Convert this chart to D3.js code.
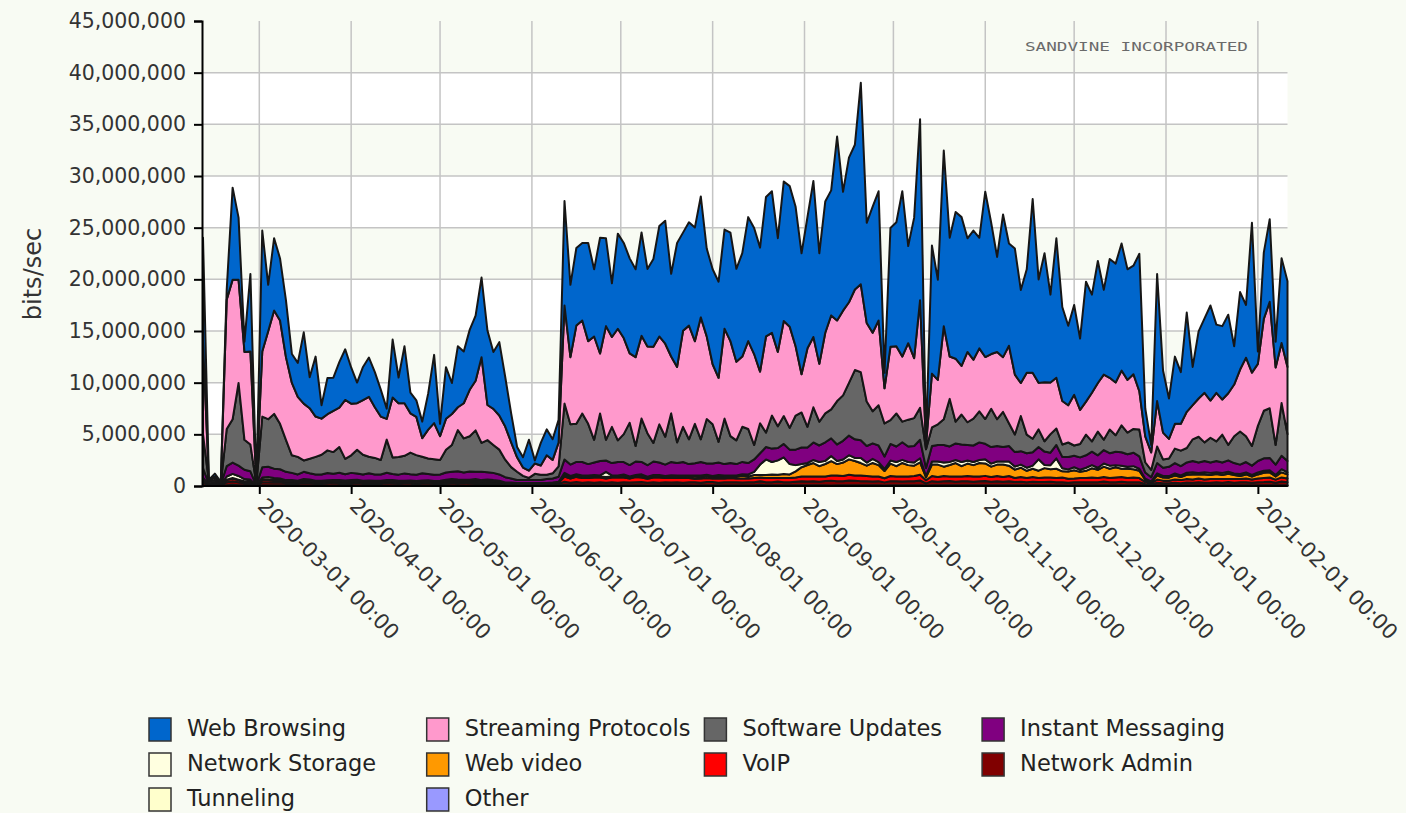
<!DOCTYPE html>
<html>
<head>
<meta charset="utf-8">
<script src="https://cdn.jsdelivr.net/npm/d3@7"></script>
<style>
  html, body { margin: 0; padding: 0; background: #f8fbf3; }
  svg { display: block; font-family: "DejaVu Sans", Verdana, sans-serif; }
</style>
</head>
<body>
<div id="chart"></div>
<script>
// legend order (top of the stack first)
const seriesNames = ["Web Browsing", "Streaming Protocols", "Software Updates", "Instant Messaging",
  "Network Storage", "Web video", "VoIP", "Network Admin", "Tunneling", "Other"];
const seriesColors = ["#0066cc", "#ff99cc", "#666666", "#800080",
  "#ffffe0", "#ff9900", "#ff0000", "#800000", "#ffffcc", "#9999ff"];

// one sample every 2 days from 2020-02-11, values in Mbit/s
const startDate = "2020-02-11";
const stepDays = 2;

const webBrowsing = [
  10,0.1,0.3,0.1,1,8.9,6,1,7.5,0.05,
  11.7,4.5,7,6,5.5,2.8,3.3,6.9,3,5.8,
  1.3,3.5,3.2,4.4,4.9,3.5,2,3.2,3.8,3.4,
  2.6,1,5.6,2.5,5.5,2,1.6,1.6,3.5,6.6,
  1.2,5,3,5.9,5,5.8,6.3,7.7,7.2,5.5,
  7.1,4.8,2.8,1,1,3,0.3,2.2,2.5,2,
  2.2,10.1,7,7.5,7.5,9.5,6.5,11.2,8.5,5.2,
  9.2,9.2,9.2,8.5,10,7.5,8.5,10.7,11.9,8,
  12,9.5,10,11,11.7,8.5,9.2,9.3,9.6,10.5,
  9,10,12,12.2,12,13.5,13.7,11,13.5,13.6,
  13.5,11.7,12.7,15.1,10.7,12.7,12.1,17.8,11.5,14,
  14,19.5,9.7,12.2,12.5,1.5,11.5,12,16,9.4,
  13.6,17.5,0.5,12.4,9.7,17,11.5,14.2,14.4,11,
  12.5,10.7,16,12.7,9.2,13.8,9.9,12.2,9,10,
  16.8,10,12.5,8.5,13.5,9.1,7.7,8.7,6.9,11.6,
  9.5,11.8,8.2,11.5,11.5,12.3,10.7,10.5,13.3,2.7,
  0.7,12.3,6,3.9,6.5,5,9.6,3.7,6.5,7.2,
  9.2,6.6,7.1,7.6,3.7,7.5,5.1,14.5,1.2,6.4,
  8,2.5,8.2,8.3];

const streamingProtocols = [
  9,0.1,0.3,0.1,12.5,13.5,10,8.5,9,0.05,
  6.3,8.5,10,10,8,7,5.8,5.5,4.9,3.9,
  3.5,3.5,4,3.8,5.7,5,4.5,5.3,5.8,4.9,
  4.2,2,5.8,5.2,5.1,3.8,3.7,1.8,2.8,3.5,
  2.3,3,3,2.2,3.4,4.5,4.8,8.3,3.4,3.5,
  3.3,3.2,2.4,1.4,0.8,0.7,1,0.9,1.9,1.3,
  2.3,9.5,6.5,9.5,9,8,10,5.8,11,8.7,
  10.8,9.3,6.7,8.6,8,8.4,9.3,8.5,9,5.5,
  7.3,9.3,11,8,11.8,8,5.8,6.2,8.7,9.2,
  7.6,6.8,8.5,8.8,5,9.3,8,7.2,9.2,9.8,
  6.7,3.7,7.6,6.8,5.6,7.8,9.1,7.8,8.2,7.8,
  7.8,8.5,7.6,7.6,8.2,3.4,7.1,6.5,6.3,7.4,
  5.8,10.4,0.4,5.2,4.3,9,4.1,6.1,4.7,6.8,
  5.7,6.1,6,5.3,6.5,5.3,7.5,5.8,3.2,6,
  6.4,4.5,5.7,5,4.9,4.2,3.6,4.9,3.3,3.2,
  4.7,4.7,6.3,5,5.1,5.3,5.1,5.3,3.7,2.5,
  1.7,4.4,2.6,1.9,2.4,2.6,3.5,3.3,3.7,4.8,
  3.6,4.7,3.4,5,5,6,7.6,7.1,6,8.9,
  10.3,7.5,5.8,6.5];

const softwareUpdates = [
  3.3,0.2,0.2,0.03,3.6,4.2,8.0,2.9,2.6,0.1,
  4.9,4.6,5.3,4.4,3.1,1.7,1.7,1.1,1.4,1.7,
  1.9,2.2,2.1,2.5,1.5,1.7,2.3,1.9,1.6,1.6,
  1.4,3.2,1.6,1.7,1.7,2.1,1.9,1.6,1.5,1.5,
  1.4,2.2,2.6,4.0,3.3,3.4,4.0,2.8,3.1,2.7,
  2.4,1.7,1.1,0.8,0.4,0.2,0.6,0.5,0.4,0.5,
  1.0,5.4,3.9,3.7,4.7,3.9,2.2,4.6,2.0,3.5,
  2.1,2.7,4.1,1.5,4.2,3.1,1.8,3.7,2.7,4.7,
  2.0,3.4,2.4,3.8,2.2,4.3,3.8,2.0,4.4,2.6,
  2.3,3.4,3.3,1.4,2.9,1.4,3.2,2.1,2.7,2.1,
  3.3,3.4,2.0,3.4,2.3,2.8,2.8,4.2,4.4,5.1,
  6.7,6.6,4.3,3.1,3.9,3.2,2.3,3.2,2.0,2.6,
  2.7,3.1,1.8,1.8,2.0,2.5,4.6,2.1,2.9,2.2,
  2.6,3.0,2.4,3.7,2.6,3.4,2.2,1.7,3.4,1.8,
  1.3,1.7,1.0,1.8,1.6,1.2,1.4,1.0,1.3,2.0,
  1.0,2.3,1.0,2.3,1.6,2.6,2.1,2.3,2.6,1.0,
  0.7,1.6,0.8,0.8,1.4,1.5,1.4,2.1,2.5,1.8,
  2.4,1.9,2.7,1.5,2.6,3.2,2.5,1.9,3.4,4.6,
  4.8,1.9,5.1,2.6];

const instantMessaging = [
  0.9,0.1,0.2,0.05,1.0,1.1,1.0,0.9,0.8,0.02,
  1.0,1.0,0.9,0.9,0.8,0.7,0.6,0.7,0.6,0.6,
  0.6,0.7,0.6,0.7,0.6,0.7,0.6,0.6,0.7,0.6,
  0.6,0.7,0.6,0.6,0.7,0.6,0.6,0.7,0.6,0.6,
  0.6,0.7,0.7,0.8,0.7,0.8,0.7,0.8,0.7,0.7,
  0.6,0.5,0.4,0.3,0.3,0.3,0.3,0.3,0.4,0.4,
  0.5,1.3,1.1,1.2,1.3,1.1,1.2,1.4,1.1,1.2,
  1.3,1.2,1.1,1.3,1.2,1.1,1.3,1.2,1.1,1.3,
  1.2,1.3,1.1,1.2,1.3,1.1,1.2,1.2,1.1,1.2,
  1.1,1.2,1.1,1.2,1.1,1.2,1.3,1.2,1.3,1.4,
  1.5,1.6,1.5,1.7,1.6,1.8,1.7,1.6,1.8,1.9,
  1.8,1.7,1.6,1.5,1.6,1.2,1.6,1.5,1.7,1.5,
  1.6,1.8,0.8,1.5,1.6,1.7,1.5,1.6,1.7,1.5,
  1.6,1.7,1.5,1.6,1.5,1.4,1.5,1.4,1.3,1.4,
  1.3,1.2,1.3,1.2,1.3,1.1,1.2,1.1,1.2,1.2,
  1.3,1.2,1.3,1.2,1.3,1.3,1.2,1.3,1.2,0.6,
  0.4,1.0,0.8,0.9,1.0,0.9,1.0,1.1,1.0,1.1,
  1.0,1.1,1.0,1.1,1.0,0.9,1.0,0.9,1.1,1.2,
  1.2,1.0,1.3,1.1];

const networkStorage = [
  0.2,0.02,0.05,0.02,0.3,0.4,0.35,0.2,0.1,0.02,
  0.2,0.25,0.2,0.15,0.1,0.1,0.1,0.1,0.15,0.1,
  0.1,0.1,0.1,0.1,0.1,0.15,0.1,0.1,0.1,0.1,
  0.1,0.12,0.1,0.08,0.1,0.1,0.12,0.1,0.1,0.08,
  0.1,0.1,0.15,0.1,0.1,0.1,0.15,0.1,0.1,0.1,
  0.1,0.05,0.05,0.05,0.05,0.05,0.05,0.05,0.05,0.05,
  0.05,0.2,0.15,0.1,0.15,0.1,0.15,0.1,0.5,0.1,
  0.1,0.15,0.1,0.1,0.15,0.1,0.1,0.15,0.1,0.1,
  0.1,0.15,0.1,0.1,0.15,0.1,0.1,0.15,0.1,0.1,
  0.1,0.15,0.2,0.3,1.0,1.5,1.2,1.4,1.6,1.0,
  0.6,0.3,0.2,0.3,0.4,0.3,0.5,0.3,0.3,0.4,
  0.3,0.5,0.3,0.4,0.3,0.2,0.3,0.4,0.3,0.3,
  0.3,0.4,0.1,0.3,0.3,0.4,0.3,0.3,0.4,0.3,
  0.3,0.3,0.4,0.3,0.3,0.3,0.4,0.3,0.3,0.3,
  0.3,1.1,0.3,0.4,1.0,0.3,0.2,0.3,0.2,0.3,
  0.3,0.2,0.3,0.3,0.2,0.3,0.2,0.3,0.2,0.1,
  0.05,0.2,0.15,0.15,0.2,0.15,0.2,0.2,0.15,0.2,
  0.2,0.15,0.2,0.2,0.15,0.2,0.2,0.15,0.2,0.2,
  0.2,0.15,0.3,0.2];

const webVideo = [
  0.05,0,0,0,0.05,0.05,0.05,0.05,0.05,0,
  0.05,0.05,0.05,0.05,0.05,0.05,0.05,0.1,0.05,0.05,
  0.05,0.04,0.05,0.06,0.05,0.05,0.04,0.05,0.06,0.05,
  0.05,0.05,0.06,0.05,0.04,0.05,0.05,0.06,0.05,0.04,
  0.05,0.06,0.05,0.05,0.04,0.05,0.06,0.05,0.05,0.05,
  0.05,0.05,0.03,0.03,0.03,0.03,0.03,0.03,0.03,0.03,
  0.05,0.15,0.1,0.15,0.1,0.15,0.1,0.1,0.15,0.1,
  0.1,0.15,0.1,0.1,0.15,0.1,0.15,0.1,0.1,0.15,
  0.15,0.1,0.15,0.2,0.15,0.2,0.15,0.2,0.2,0.15,
  0.2,0.25,0.2,0.3,0.25,0.3,0.35,0.3,0.4,0.35,
  0.6,0.9,1.1,1.3,1.0,1.2,1.4,1.1,1.3,1.5,
  1.4,1.2,1.0,1.3,1.1,0.7,1.2,1.0,1.3,1.1,
  1.0,1.2,0.3,1.1,1.2,0.9,1.1,1.3,1.0,1.2,
  1.1,1.3,1.2,1.0,1.1,1.2,1.0,0.8,0.9,0.7,
  0.8,0.7,0.9,0.8,0.9,0.6,0.7,0.8,0.6,0.7,
  0.9,0.8,1.0,0.9,1.0,0.8,0.9,0.8,0.7,0.2,
  0.1,0.4,0.3,0.3,0.4,0.3,0.4,0.5,0.4,0.5,
  0.4,0.5,0.4,0.5,0.4,0.3,0.4,0.3,0.4,0.5,
  0.5,0.3,0.5,0.4];

const voip = [
  0.2,0.05,0.05,0.05,0.2,0.25,0.2,0.15,0.2,0.02,
  0.2,0.2,0.2,0.15,0.15,0.15,0.1,0.15,0.15,0.1,
  0.1,0.15,0.1,0.15,0.1,0.1,0.15,0.1,0.1,0.1,
  0.1,0.1,0.15,0.1,0.1,0.1,0.1,0.1,0.15,0.1,
  0.1,0.15,0.15,0.2,0.15,0.2,0.2,0.15,0.2,0.15,
  0.15,0.1,0.1,0.05,0.05,0.05,0.05,0.05,0.05,0.1,
  0.1,0.5,0.4,0.5,0.45,0.4,0.5,0.45,0.4,0.45,
  0.5,0.45,0.4,0.5,0.45,0.4,0.45,0.5,0.4,0.45,
  0.4,0.45,0.4,0.35,0.4,0.4,0.35,0.4,0.35,0.4,
  0.35,0.4,0.35,0.4,0.35,0.4,0.4,0.35,0.4,0.4,
  0.4,0.45,0.5,0.45,0.5,0.45,0.5,0.55,0.5,0.55,
  0.5,0.55,0.5,0.5,0.45,0.4,0.5,0.45,0.5,0.45,
  0.5,0.55,0.3,0.5,0.45,0.5,0.45,0.5,0.45,0.5,
  0.5,0.45,0.5,0.45,0.5,0.45,0.5,0.4,0.45,0.4,
  0.45,0.4,0.45,0.4,0.4,0.45,0.4,0.35,0.4,0.4,
  0.45,0.4,0.45,0.4,0.45,0.45,0.4,0.45,0.4,0.2,
  0.15,0.3,0.25,0.25,0.3,0.3,0.35,0.3,0.35,0.3,
  0.35,0.3,0.35,0.3,0.35,0.3,0.35,0.3,0.35,0.4,
  0.4,0.3,0.4,0.35];

const networkAdmin = [
  0.3,0.05,0.1,0.05,0.3,0.35,0.3,0.2,0.2,0.02,
  0.3,0.3,0.25,0.3,0.2,0.2,0.2,0.25,0.2,0.2,
  0.2,0.2,0.25,0.2,0.2,0.2,0.25,0.2,0.2,0.2,
  0.2,0.25,0.2,0.2,0.2,0.2,0.15,0.2,0.2,0.2,
  0.2,0.2,0.25,0.2,0.25,0.2,0.2,0.2,0.2,0.2,
  0.15,0.1,0.1,0.1,0.1,0.1,0.1,0.1,0.1,0.1,
  0.15,0.3,0.25,0.3,0.25,0.3,0.25,0.3,0.25,0.3,
  0.25,0.3,0.25,0.3,0.3,0.25,0.3,0.25,0.3,0.25,
  0.3,0.25,0.3,0.3,0.25,0.3,0.3,0.25,0.3,0.3,
  0.3,0.25,0.3,0.3,0.35,0.3,0.3,0.35,0.3,0.3,
  0.35,0.4,0.35,0.4,0.35,0.4,0.45,0.4,0.4,0.45,
  0.45,0.4,0.4,0.35,0.4,0.3,0.4,0.4,0.35,0.4,
  0.4,0.45,0.2,0.4,0.35,0.4,0.4,0.35,0.4,0.4,
  0.35,0.4,0.4,0.35,0.4,0.35,0.4,0.3,0.35,0.3,
  0.35,0.3,0.3,0.35,0.3,0.3,0.25,0.3,0.3,0.3,
  0.3,0.3,0.35,0.3,0.3,0.35,0.3,0.3,0.3,0.15,
  0.1,0.25,0.2,0.2,0.25,0.2,0.25,0.25,0.3,0.25,
  0.25,0.3,0.25,0.3,0.25,0.3,0.3,0.25,0.3,0.3,
  0.35,0.25,0.35,0.3];

const tunneling = [
  0.05,0,0,0,0.05,0.1,0.05,0.05,0.05,0,
  0.05,0.05,0.06,0.05,0.04,0.05,0.05,0.05,0.06,0.05,
  0.05,0.04,0.05,0.05,0.06,0.05,0.05,0.04,0.05,0.05,
  0.05,0.05,0.04,0.05,0.06,0.05,0.05,0.05,0.04,0.05,
  0.05,0.06,0.05,0.05,0.05,0.04,0.05,0.05,0.06,0.05,
  0.05,0.03,0.03,0.03,0.03,0.03,0.03,0.03,0.03,0.03,
  0.03,0.1,0.05,0.05,0.05,0.05,0.05,0.05,0.05,0.05,
  0.05,0.05,0.06,0.05,0.05,0.04,0.05,0.05,0.05,0.06,
  0.05,0.05,0.05,0.04,0.05,0.06,0.05,0.05,0.05,0.05,
  0.05,0.06,0.05,0.05,0.1,0.05,0.05,0.06,0.05,0.05,
  0.05,0.05,0.06,0.05,0.05,0.05,0.04,0.05,0.05,0.06,
  0.05,0.05,0.05,0.06,0.05,0.03,0.05,0.05,0.06,0.05,
  0.05,0.06,0.03,0.05,0.05,0.05,0.06,0.05,0.05,0.05,
  0.05,0.05,0.06,0.05,0.05,0.05,0.05,0.06,0.05,0.05,
  0.05,0.06,0.05,0.05,0.05,0.05,0.04,0.05,0.05,0.05,
  0.05,0.05,0.06,0.05,0.05,0.05,0.05,0.05,0.05,0.03,
  0.03,0.05,0.05,0.04,0.05,0.05,0.06,0.05,0.05,0.05,
  0.05,0.05,0.05,0.06,0.05,0.05,0.05,0.05,0.05,0.06,
  0.05,0.05,0.06,0.05];

const other = [
  0.02,0,0,0,0.02,0.02,0.02,0.02,0.02,0,
  0.02,0.02,0.02,0.02,0.03,0.02,0.02,0.02,0.02,0.02,
  0.02,0.02,0.03,0.02,0.02,0.02,0.02,0.03,0.02,0.02,
  0.02,0.02,0.02,0.02,0.02,0.03,0.02,0.02,0.02,0.02,
  0.02,0.03,0.02,0.02,0.02,0.02,0.02,0.02,0.03,0.02,
  0.02,0.02,0.02,0.02,0.02,0.02,0.02,0.02,0.02,0.02,
  0.02,0.02,0.02,0.03,0.02,0.02,0.02,0.02,0.02,0.02,
  0.02,0.02,0.02,0.02,0.03,0.02,0.02,0.02,0.02,0.02,
  0.02,0.02,0.02,0.02,0.02,0.02,0.03,0.02,0.02,0.02,
  0.02,0.02,0.02,0.02,0.02,0.02,0.02,0.02,0.02,0.02,
  0.02,0.02,0.02,0.02,0.02,0.03,0.02,0.02,0.02,0.02,
  0.02,0.02,0.02,0.02,0.02,0.02,0.02,0.02,0.02,0.02,
  0.02,0.02,0.02,0.02,0.02,0.02,0.02,0.02,0.02,0.02,
  0.02,0.02,0.02,0.02,0.02,0.02,0.02,0.02,0.02,0.02,
  0.02,0.02,0.03,0.02,0.02,0.02,0.02,0.02,0.02,0.02,
  0.02,0.02,0.02,0.02,0.02,0.02,0.02,0.02,0.02,0.02,
  0.02,0.02,0.02,0.02,0.02,0.02,0.02,0.02,0.02,0.02,
  0.02,0.02,0.02,0.02,0.02,0.02,0.02,0.02,0.02,0.02,
  0.02,0.02,0.02,0.02];

const yTickValues = [0, 5e6, 10e6, 15e6, 20e6, 25e6, 30e6, 35e6, 40e6, 45e6];
const xTickDates = ["2020-03-01", "2020-04-01", "2020-05-01", "2020-06-01", "2020-07-01", "2020-08-01",
  "2020-09-01", "2020-10-01", "2020-11-01", "2020-12-01", "2021-01-01", "2021-02-01"];

const seriesValues = [webBrowsing, streamingProtocols, softwareUpdates, instantMessaging,
  networkStorage, webVideo, voip, networkAdmin, tunneling, other];

const width = 1406, height = 813;
const plot = { left: 203, right: 1287.5, top: 21, bottom: 486 };

const svg = d3.select("#chart").append("svg")
  .attr("width", width)
  .attr("height", height);

const parse = d3.utcParse("%Y-%m-%d");
const start = parse(startDate);
const dates = webBrowsing.map((v, i) => d3.utcDay.offset(start, i * stepDays));

const rows = dates.map((d, i) => {
  const r = { date: d };
  seriesNames.forEach((name, k) => { r[name] = seriesValues[k][i] * 1e6; });
  return r;
});

const x = d3.scaleUtc()
  .domain([start, dates[dates.length - 1]])
  .range([plot.left, plot.right]);

const y = d3.scaleLinear()
  .domain([0, 45e6])
  .range([plot.bottom, plot.top]);

// alternating bands
const bands = [[5e6, 10e6], [15e6, 20e6], [25e6, 30e6], [35e6, 40e6]];
svg.append("g").selectAll("rect")
  .data(bands)
  .join("rect")
    .attr("x", plot.left)
    .attr("width", plot.right - plot.left)
    .attr("y", d => y(d[1]))
    .attr("height", d => y(d[0]) - y(d[1]))
    .attr("fill", "#ffffff");

// grid
const grid = svg.append("g").attr("stroke", "#c4c4c4").attr("stroke-width", 1.5);
grid.selectAll(".h")
  .data(yTickValues.filter(v => v > 0 && v < 45e6))
  .join("line")
    .attr("x1", plot.left).attr("x2", plot.right)
    .attr("y1", d => y(d)).attr("y2", d => y(d));
grid.selectAll(".v")
  .data(xTickDates.map(parse))
  .join("line")
    .attr("x1", d => x(d)).attr("x2", d => x(d))
    .attr("y1", plot.top).attr("y2", plot.bottom);

svg.append("text")
  .attr("x", 1025).attr("y", 51)
  .attr("font-size", 13)
  .attr("fill", "#6a6a6a")
  .attr("font-family", "DejaVu Sans Mono, monospace")
  .attr("textLength", 223)
  .attr("lengthAdjust", "spacingAndGlyphs")
  .text("SANDVINE INCORPORATED");

// stack, bottom layer = last legend entry
const keys = seriesNames.slice().reverse();
const stacked = d3.stack().keys(keys)(rows);
const colorOf = d3.scaleOrdinal(seriesNames, seriesColors);

const area = d3.area()
  .x(d => x(d.data.date))
  .y0(d => y(d[0]))
  .y1(d => y(d[1]));

svg.append("g")
  .selectAll("path")
  .data(stacked)
  .join("path")
    .attr("d", area)
    .attr("fill", d => colorOf(d.key))
    .attr("stroke", "#161616")
    .attr("stroke-width", 2)
    .attr("stroke-linejoin", "round");

// axes
const yAxis = svg.append("g")
  .attr("transform", `translate(${plot.left - 1},0)`)
  .call(d3.axisLeft(y).tickValues(yTickValues).tickFormat(d3.format(",")).tickSize(8).tickPadding(8));
yAxis.select(".domain").attr("stroke", "#000").attr("stroke-width", 2);
yAxis.selectAll(".tick line").attr("stroke", "#000").attr("stroke-width", 2);
yAxis.selectAll("text").attr("font-size", 20.5).attr("fill", "#333").attr("font-family", "DejaVu Sans, Verdana, sans-serif");

const xAxis = svg.append("g")
  .attr("transform", `translate(0,${plot.bottom})`)
  .call(d3.axisBottom(x).tickValues(xTickDates.map(parse))
    .tickFormat(d3.utcFormat("%Y-%m-%d %H:%M")).tickSize(8).tickSizeOuter(0));
xAxis.select(".domain").attr("stroke", "#000").attr("stroke-width", 2)
  .attr("d", `M${plot.left - 1},0H${plot.right}`);
xAxis.selectAll(".tick line").attr("stroke", "#000").attr("stroke-width", 2);
xAxis.selectAll("text")
  .attr("font-size", 21)
  .attr("fill", "#333")
  .attr("font-family", "DejaVu Sans, Verdana, sans-serif")
  .attr("x", 0).attr("y", 0).attr("dy", "0.35em")
  .attr("text-anchor", "start")
  .attr("transform", "translate(2,16) rotate(45)");

svg.append("text")
  .attr("transform", "translate(41,274) rotate(-90)")
  .attr("text-anchor", "middle")
  .attr("font-size", 24)
  .attr("fill", "#333")
  .text("bits/sec");

// legend
const legend = svg.append("g")
  .selectAll("g")
  .data(seriesNames)
  .join("g")
    .attr("transform", (d, i) => `translate(${149 + (i % 4) * 277.7},${718 + Math.floor(i / 4) * 35})`);
legend.append("rect")
  .attr("width", 22).attr("height", 23)
  .attr("fill", (d, i) => seriesColors[i])
  .attr("stroke", "#333").attr("stroke-width", 1.5);
legend.append("text")
  .attr("x", 38).attr("y", 18)
  .attr("font-size", 22.5)
  .attr("fill", "#222")
  .text(d => d);
</script>
</body>
</html>
